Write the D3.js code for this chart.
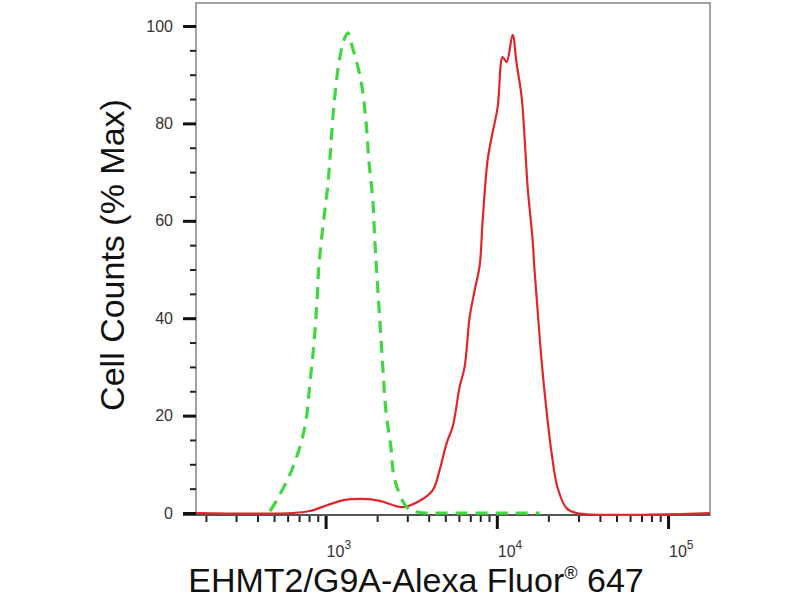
<!DOCTYPE html>
<html>
<head>
<meta charset="utf-8">
<script src="https://cdn.jsdelivr.net/npm/d3@7"></script>
<style>
  html, body { margin: 0; padding: 0; background: #fff; }
  svg { display: block; font-family: "Liberation Sans", Arial, sans-serif; }
</style>
</head>
<body>
<svg id="chart" width="800" height="600"></svg>
<script>
// isotype control (green dashed)
const controlX = [473, 520, 644, 757, 810, 855, 889, 914, 964, 1031, 1074, 1118, 1196, 1279, 1349,
  1422, 1606, 1718, 1788, 1886, 1937, 1990, 2073, 2158, 2248, 2404, 2535, 2979, 3406, 5308, 17780];
const controlY = [0.4, 2.7, 9.4, 17.7, 26.7, 34.9, 43.1, 50.9, 58.7, 67.4, 75.6, 83.8, 92.4, 97.1, 98.6,
  96.1, 88.9, 80.7, 72.5, 64.3, 56.1, 49.3, 39.6, 30.0, 21.1, 13.6, 6.8, 1.2, 0.2, 0, 0];

// EHMT2 stained (red)
const stainX = [175, 646, 810, 1018, 1296, 1649, 2073, 2825, 3548, 4227, 4634, 5097, 5522, 6067, 6486,
  6938, 7430, 7943, 8268, 8836, 9333, 10116, 10817, 11407, 12367, 13037, 13964, 14521, 15136, 16180,
  16596, 17298, 18239, 19498, 20893, 22594, 25527, 29174, 175800];
const stainY = [0, 0, 0.4, 1.6, 2.7, 2.9, 2.5, 1.2, 2.5, 4.7, 8.8, 14.4, 17.7, 25.9, 30.0,
  40.2, 45.8, 50.9, 60.2, 72.5, 77.2, 83.4, 93.6, 92.6, 98.2, 92.4, 85.4, 77.2, 66.9, 56.1,
  49.9, 41.7, 31.4, 21.1, 12.3, 5.3, 1.0, 0, 0];

const yTicks = [0, 20, 40, 60, 80, 100];
const xDecades = [1000, 10000, 100000];
const xExponents = ["3", "4", "5"];

const svg = d3.select("#chart");
const plotLeft = 196, plotRight = 710, plotTop = 3, plotBottom = 515;

const x = d3.scaleLog().domain([175, 175800]).range([plotLeft, plotRight]);
const y = d3.scaleLinear().domain([0, 100]).range([513, 26]);

// frame
svg.append("rect")
  .attr("x", plotLeft).attr("y", plotTop)
  .attr("width", plotRight - plotLeft).attr("height", plotBottom - plotTop)
  .attr("fill", "none").attr("stroke", "#8a8a8a").attr("stroke-width", 1.6);
svg.append("line")
  .attr("x1", 183).attr("x2", plotRight)
  .attr("y1", plotBottom).attr("y2", plotBottom)
  .attr("stroke", "#555").attr("stroke-width", 2);

// y axis minor + major
const yMinor = d3.range(0, 101, 5);
svg.append("g")
  .attr("transform", `translate(${plotLeft},0)`)
  .call(d3.axisLeft(y).tickValues(yMinor).tickSize(6).tickFormat(""))
  .call(g => g.select(".domain").remove())
  .call(g => g.selectAll("line").attr("stroke", "#222").attr("stroke-width", 2));

svg.append("g")
  .attr("transform", `translate(${plotLeft},0)`)
  .call(d3.axisLeft(y).tickValues(yTicks).tickSize(13).tickPadding(10))
  .call(g => g.select(".domain").remove())
  .call(g => g.selectAll("line").attr("stroke", "#111").attr("stroke-width", 3))
  .call(g => g.selectAll("text").attr("fill", "#333").attr("font-size", 16)
    .attr("font-family", "'Liberation Sans', Arial, sans-serif"));

// x axis minor + major
const xMinor = [];
[100, 1000, 10000, 100000].forEach(p => {
  for (let k = 2; k <= 9; k++) {
    const v = p * k;
    if (v > x.domain()[0] && v < x.domain()[1]) xMinor.push(v);
  }
});
svg.append("g")
  .attr("transform", `translate(0,${plotBottom + 1})`)
  .call(d3.axisBottom(x).tickValues(xMinor).tickSize(6).tickFormat(""))
  .call(g => g.select(".domain").remove())
  .call(g => g.selectAll("line").attr("stroke", "#222").attr("stroke-width", 2));

svg.append("g")
  .attr("transform", `translate(0,${plotBottom + 1})`)
  .call(d3.axisBottom(x).tickValues(xDecades).tickSize(13).tickFormat(""))
  .call(g => g.select(".domain").remove())
  .call(g => g.selectAll("line").attr("stroke", "#111").attr("stroke-width", 3));

const xl = svg.append("g").selectAll("text")
  .data(xDecades)
  .join("text")
  .attr("x", d => x(d) + 1)
  .attr("y", 557)
  .attr("fill", "#333")
  .attr("font-size", 16);
xl.append("tspan").text("10");
xl.append("tspan").attr("dy", -8).attr("font-size", 12).text((d, i) => xExponents[i]);

// curves
const line = d3.line()
  .x(d => x(d[0]))
  .y(d => y(d[1]))
  .curve(d3.curveCatmullRom.alpha(0.5));

svg.append("path")
  .datum(stainX.map((v, i) => [v, stainY[i]]))
  .attr("d", line)
  .attr("fill", "none")
  .attr("stroke", "#e0252b")
  .attr("stroke-width", 2.2)
  .attr("stroke-linejoin", "round");

svg.append("path")
  .datum(controlX.map((v, i) => [v, controlY[i]]))
  .attr("d", line)
  .attr("fill", "none")
  .attr("stroke", "#42d642")
  .attr("stroke-width", 3.2)
  .attr("stroke-dasharray", "12,8");

// titles
svg.append("text")
  .attr("transform", "translate(124,255) rotate(-90)")
  .attr("text-anchor", "middle")
  .attr("font-size", 34)
  .attr("fill", "#111")
  .text("Cell Counts (% Max)");

const xt = svg.append("text")
  .attr("x", 416)
  .attr("y", 592)
  .attr("text-anchor", "middle")
  .attr("font-size", 34)
  .attr("fill", "#111");
xt.append("tspan").text("EHMT2/G9A-Alexa Fluor");
xt.append("tspan").attr("font-size", 18).attr("dy", -13).text("®");
xt.append("tspan").attr("dy", 13).text(" 647");
</script>
</body>
</html>
